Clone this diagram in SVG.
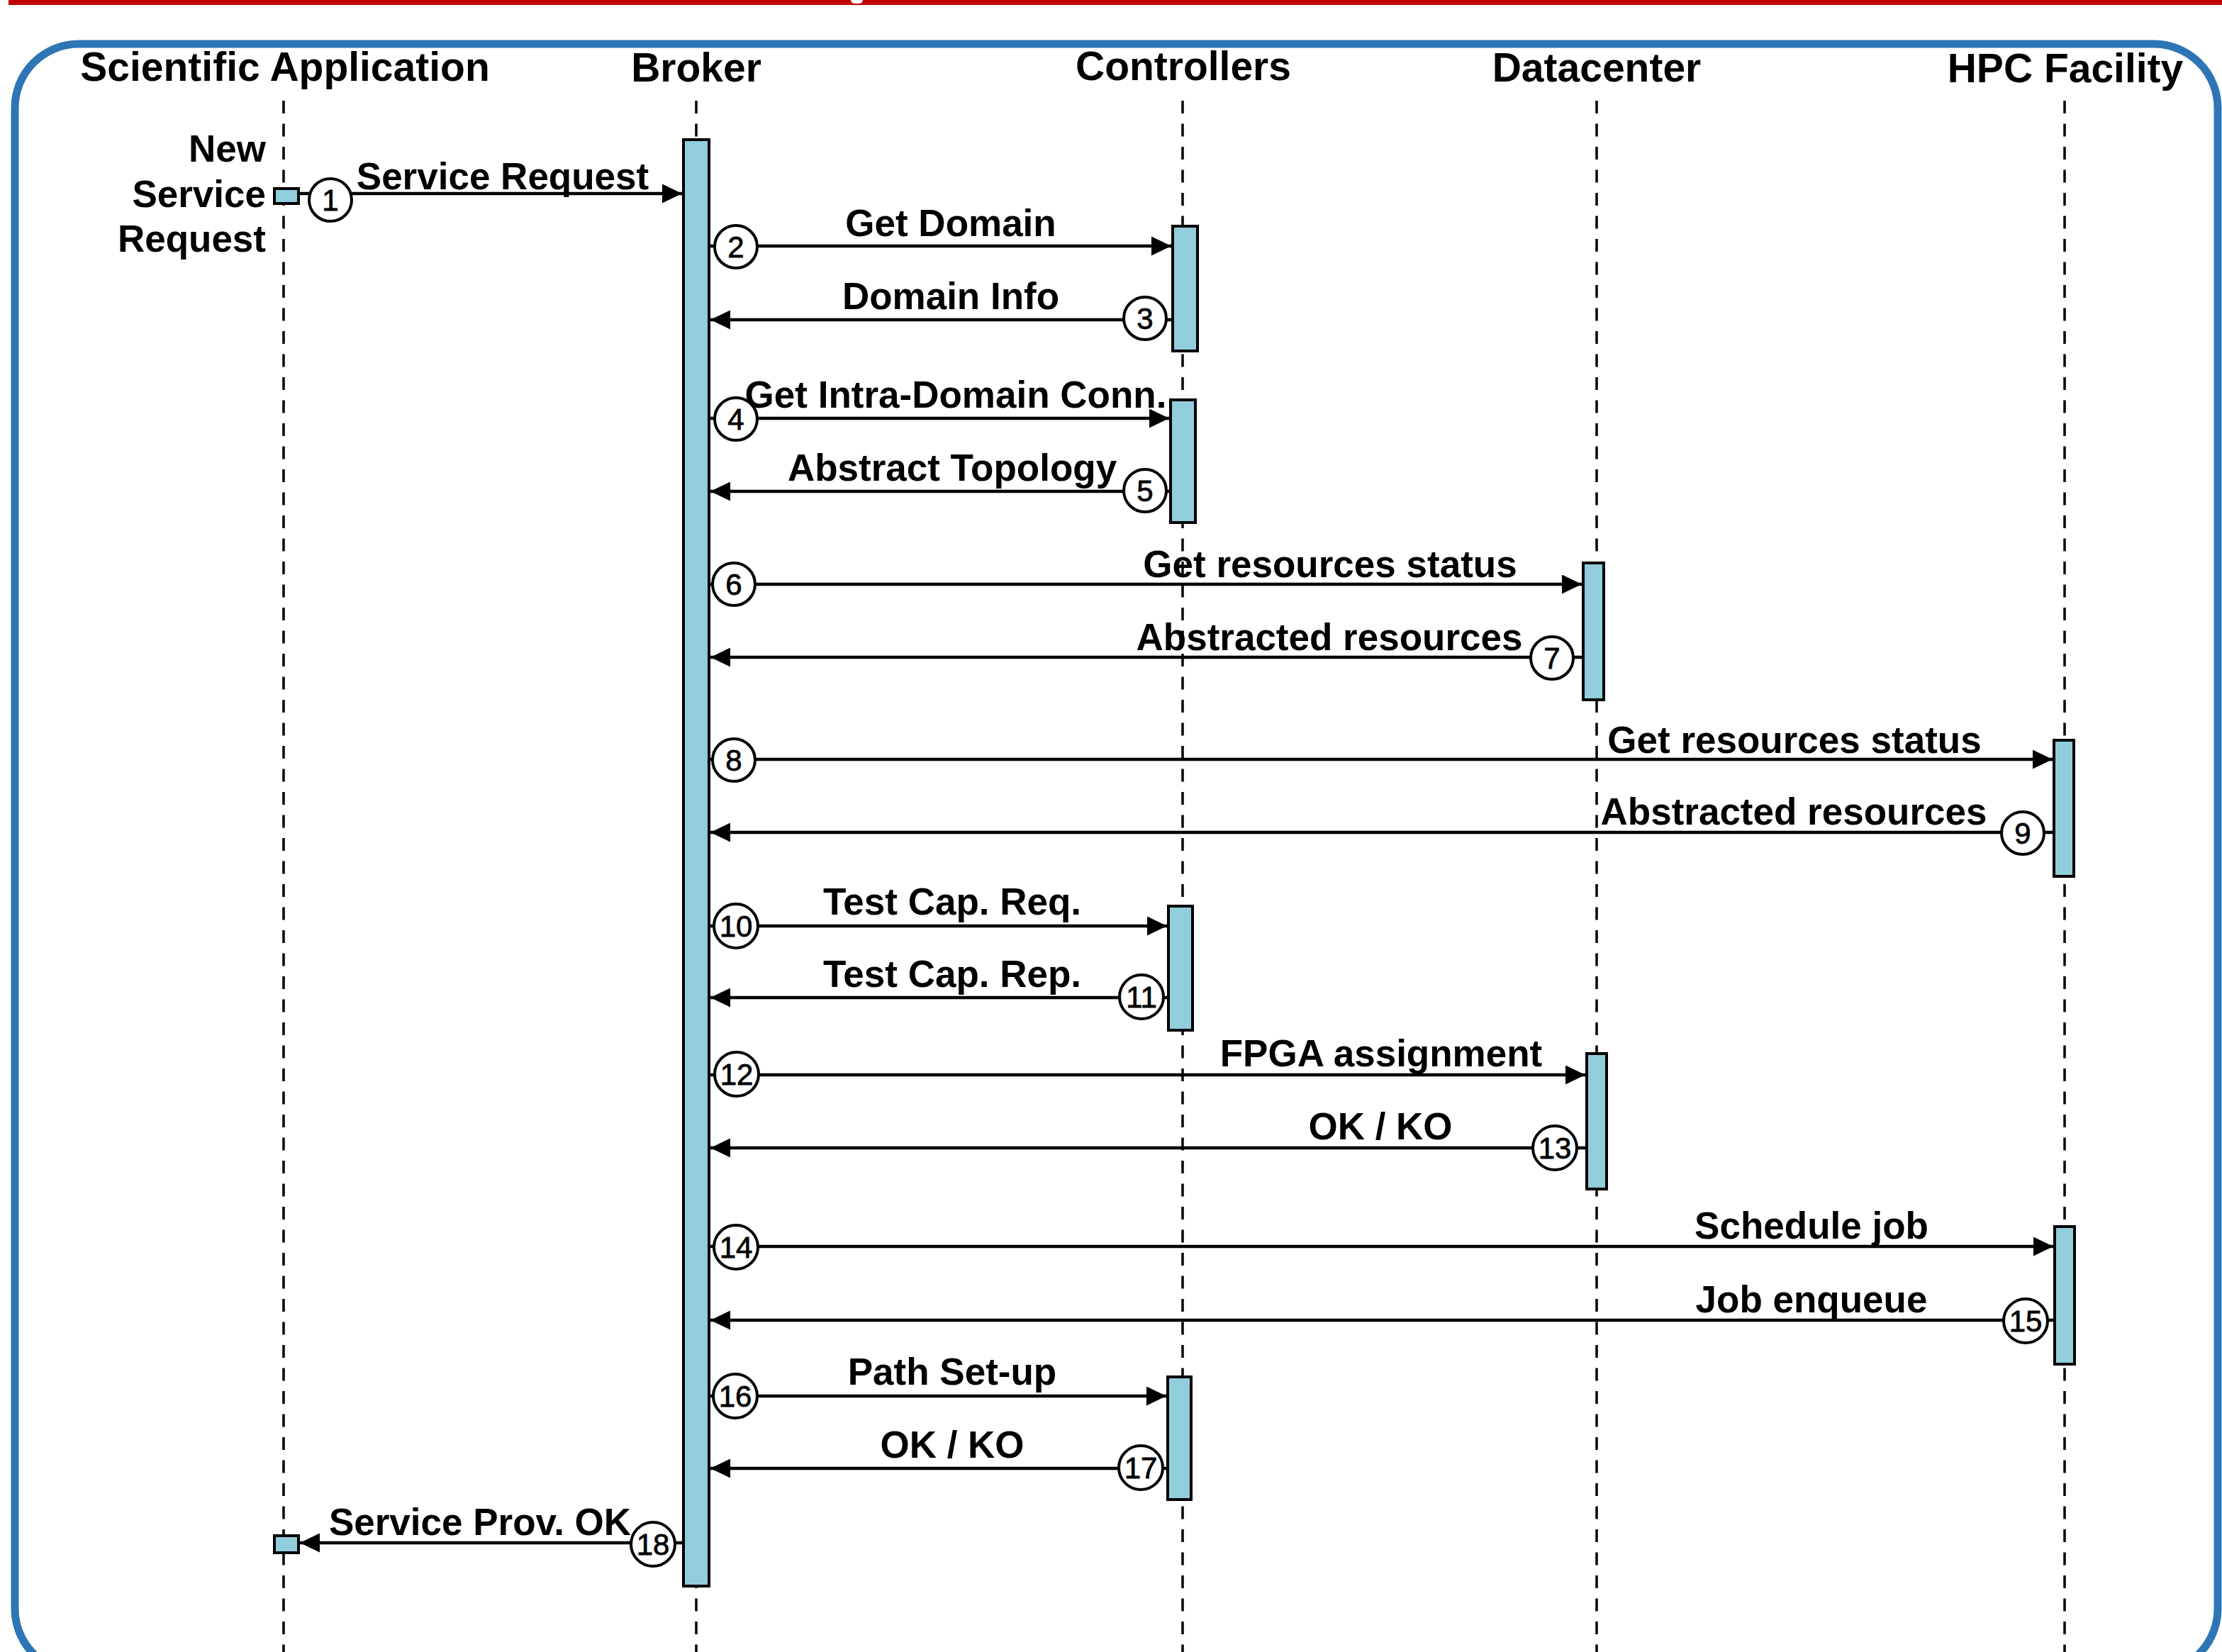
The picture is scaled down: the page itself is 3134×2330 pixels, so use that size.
<svg xmlns="http://www.w3.org/2000/svg" width="3134" height="2330" viewBox="0 0 3134 2330">
<style>
.hdr{font-family:"Liberation Sans",Arial,sans-serif;font-weight:bold;font-size:57px;fill:#000;text-anchor:middle}
.lbl{font-family:"Liberation Sans",Arial,sans-serif;font-weight:bold;font-size:53px;fill:#000;text-anchor:middle}
.side{font-family:"Liberation Sans",Arial,sans-serif;font-weight:bold;font-size:53px;fill:#000;text-anchor:end}
.num{font-family:"Liberation Sans",Arial,sans-serif;font-size:42px;fill:#000;stroke:#000;stroke-width:0.8;text-anchor:middle}
.life{stroke:#000;stroke-width:3.5;stroke-dasharray:18 14.5;fill:none}
.act{fill:#92CDDC;stroke:#000;stroke-width:4}
.msg{stroke:#000;stroke-width:4.5;fill:none;marker-end:url(#ah)}
.circ{fill:#fff;stroke:#000;stroke-width:4}
</style>
<defs>
<marker id="ah" markerUnits="userSpaceOnUse" markerWidth="28" markerHeight="27" refX="28" refY="13.5" orient="auto" viewBox="0 0 28 27">
<path d="M0,0 L28,13.5 L0,27 Z" fill="#000"/>
</marker>
</defs>
<rect x="0" y="0" width="3134" height="2330" fill="#fff"/>
<g id="frame">
<rect x="12" y="0" width="3122" height="7" fill="#C00000"/>
<rect x="1200" y="-5" width="17" height="10" rx="5" fill="#fff"/>
<rect x="21" y="62" width="3107" height="2297" rx="90" ry="90" fill="none" stroke="#2E75B6" stroke-width="11"/>
</g>
<g id="scientific-application">
<text class="hdr" x="402" y="114">Scientific Application</text>
<line class="life" x1="400" y1="142" x2="400" y2="2330"/>
<rect class="act" x="387" y="266" width="34" height="21"/>
<rect class="act" x="387" y="2166" width="34" height="24"/>
<text class="side" x="375" y="228">New</text>
<text class="side" x="375" y="292">Service</text>
<text class="side" x="375" y="355">Request</text>
</g>
<g id="broker">
<text class="hdr" x="982" y="115">Broker</text>
<line class="life" x1="982" y1="142" x2="982" y2="2330"/>
<rect class="act" x="964" y="197" width="36" height="2040"/>
</g>
<g id="controllers">
<text class="hdr" x="1669" y="113">Controllers</text>
<line class="life" x1="1668" y1="142" x2="1668" y2="2330"/>
<rect class="act" x="1654" y="319" width="35" height="176"/>
<rect class="act" x="1651" y="564" width="35" height="173"/>
<rect class="act" x="1648" y="1278" width="34" height="175"/>
<rect class="act" x="1647" y="1942" width="33" height="173"/>
</g>
<g id="datacenter">
<text class="hdr" x="2252" y="115">Datacenter</text>
<line class="life" x1="2252" y1="142" x2="2252" y2="2330"/>
<rect class="act" x="2233" y="794" width="29" height="193"/>
<rect class="act" x="2238" y="1486" width="28" height="191"/>
</g>
<g id="hpc-facility">
<text class="hdr" x="2913" y="116">HPC Facility</text>
<line class="life" x1="2912" y1="142" x2="2912" y2="2330"/>
<rect class="act" x="2897" y="1044" width="28" height="192"/>
<rect class="act" x="2898" y="1730" width="28" height="194"/>
</g>
<g id="connectors">
<g id="m1"><path class="msg" d="M421,273 H962"/><circle class="circ" cx="466" cy="282" r="30"/><text class="num" x="466" y="297">1</text><text class="lbl" x="709" y="267">Service Request</text></g>
<g id="m2"><path class="msg" d="M1000,347 H1652"/><circle class="circ" cx="1038" cy="348" r="30"/><text class="num" x="1038" y="363">2</text><text class="lbl" x="1341" y="333">Get Domain</text></g>
<g id="m3"><path class="msg" d="M1654,451 H1002"/><circle class="circ" cx="1615" cy="449" r="30"/><text class="num" x="1615" y="464">3</text><text class="lbl" x="1341" y="436">Domain Info</text></g>
<g id="m4"><path class="msg" d="M1000,590 H1649"/><circle class="circ" cx="1038" cy="591" r="30"/><text class="num" x="1038" y="606">4</text><text class="lbl" x="1348" y="575">Get Intra-Domain Conn.</text></g>
<g id="m5"><path class="msg" d="M1651,693 H1002"/><circle class="circ" cx="1615" cy="692" r="30"/><text class="num" x="1615" y="707">5</text><text class="lbl" x="1343" y="678">Abstract Topology</text></g>
<g id="m6"><path class="msg" d="M1000,824 H2231"/><circle class="circ" cx="1035" cy="824" r="30"/><text class="num" x="1035" y="839">6</text><text class="lbl" x="1876" y="814">Get resources status</text></g>
<g id="m7"><path class="msg" d="M2233,927 H1002"/><circle class="circ" cx="2189" cy="928" r="30"/><text class="num" x="2189" y="943">7</text><text class="lbl" x="1875" y="917">Abstracted resources</text></g>
<g id="m8"><path class="msg" d="M1000,1071 H2895"/><circle class="circ" cx="1035" cy="1072" r="30"/><text class="num" x="1035" y="1087">8</text><text class="lbl" x="2531" y="1062">Get resources status</text></g>
<g id="m9"><path class="msg" d="M2897,1174 H1002"/><circle class="circ" cx="2853" cy="1175" r="30"/><text class="num" x="2853" y="1190">9</text><text class="lbl" x="2530" y="1163">Abstracted resources</text></g>
<g id="m10"><path class="msg" d="M1000,1306 H1646"/><circle class="circ" cx="1038" cy="1306" r="31"/><text class="num" x="1038" y="1321">10</text><text class="lbl" x="1343" y="1290">Test Cap. Req.</text></g>
<g id="m11"><path class="msg" d="M1648,1407 H1002"/><circle class="circ" cx="1610" cy="1406" r="31"/><text class="num" x="1610" y="1421">11</text><text class="lbl" x="1343" y="1392">Test Cap. Rep.</text></g>
<g id="m12"><path class="msg" d="M1000,1516 H2236"/><circle class="circ" cx="1039" cy="1515" r="31"/><text class="num" x="1039" y="1530">12</text><text class="lbl" x="1948" y="1504">FPGA assignment</text></g>
<g id="m13"><path class="msg" d="M2238,1619 H1002"/><circle class="circ" cx="2193" cy="1619" r="31"/><text class="num" x="2193" y="1634">13</text><text class="lbl" x="1947" y="1607">OK / KO</text></g>
<g id="m14"><path class="msg" d="M1000,1758 H2896"/><circle class="circ" cx="1038" cy="1759" r="31"/><text class="num" x="1038" y="1774">14</text><text class="lbl" x="2555" y="1747">Schedule job</text></g>
<g id="m15"><path class="msg" d="M2898,1862 H1002"/><circle class="circ" cx="2857" cy="1863" r="31"/><text class="num" x="2857" y="1878">15</text><text class="lbl" x="2555" y="1851">Job enqueue</text></g>
<g id="m16"><path class="msg" d="M1000,1969 H1645"/><circle class="circ" cx="1037" cy="1969" r="31"/><text class="num" x="1037" y="1984">16</text><text class="lbl" x="1343" y="1953">Path Set-up</text></g>
<g id="m17"><path class="msg" d="M1647,2071 H1002"/><circle class="circ" cx="1609" cy="2070" r="31"/><text class="num" x="1609" y="2085">17</text><text class="lbl" x="1343" y="2056">OK / KO</text></g>
<g id="m18"><path class="msg" d="M964,2176 H423"/><circle class="circ" cx="921" cy="2178" r="31"/><text class="num" x="921" y="2193">18</text><text class="lbl" x="677" y="2165">Service Prov. OK</text></g>
</g>
</svg>
